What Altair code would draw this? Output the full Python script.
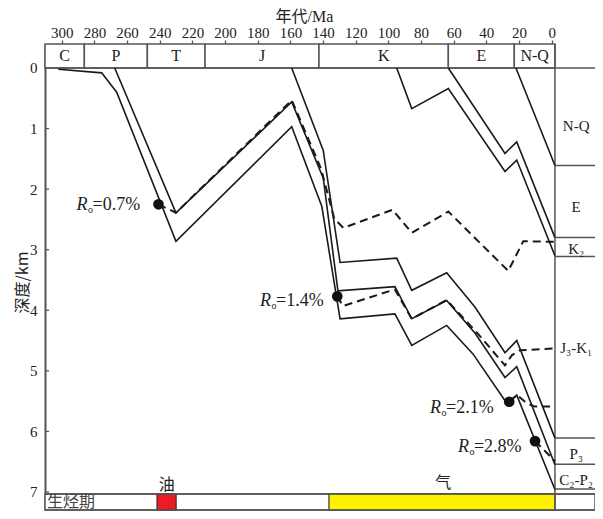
import altair as alt
import pandas as pd

FONT = "Liberation Serif, Noto Sans CJK SC, serif"
CJK = "Noto Sans CJK SC, Liberation Serif, sans-serif"
INK = "#1a1a1a"
FRAME = "#555555"

# ---------------- axes ----------------
age_ticks = [300, 280, 260, 240, 220, 200, 180, 160, 140, 120, 100, 80, 60, 40, 20, 0]
depth_ticks = [0, 1, 2, 3, 4, 5, 6, 7]
AGE_MIN, AGE_MAX = -26.52, 310.29
D_TOP, D_BOT = -0.3962, 7.2972
PRESENT = -2.0
BAR_TOP = 7.033
TICK_END = 307.8

# ---------------- stages (top box) ----------------
stage_names = ["C", "P", "T", "J", "K", "E", "N-Q"]
stage_start = [310.29, 286.2, 247.6, 212.3, 142.5, 63.3, 22.9]
stage_end = [286.2, 247.6, 212.3, 142.5, 63.3, 22.9, -2.0]

# ---------------- burial curves (age Ma, depth km) ----------------
c2p2_age = [302.1, 275.6, 266.4, 230.1, 159.2, 140.8, 129.6, 96.0, 85.7, 64.3, 48.2, 27.4, 21.4, -2.0]
c2p2_dep = [0.02, 0.08, 0.40, 2.86, 0.97, 2.28, 4.14, 4.06, 4.58, 4.25, 4.72, 5.54, 5.40, 6.96]
p3_age = [267.6, 230.1, 159.2, 139.9, 130.9, 96.0, 85.7, 64.3, 46.9, 28.6, 21.4, -2.0]
p3_dep = [0.0, 2.39, 0.56, 1.82, 3.68, 3.61, 4.14, 3.84, 4.38, 5.11, 4.93, 6.55]
j3k1_age = [159.2, 139.9, 129.6, 94.9, 85.7, 64.3, 46.9, 28.6, 21.4, -2.0]
j3k1_dep = [0.0, 1.36, 3.21, 3.14, 3.67, 3.38, 3.95, 4.70, 4.50, 6.11]
k2_age = [94.9, 85.7, 63.3, 28.6, 21.4, -2.0]
k2_dep = [0.0, 0.67, 0.34, 1.71, 1.52, 3.10]
e_age = [63.3, 28.6, 21.4, -2.0]
e_dep = [0.0, 1.41, 1.22, 2.80]
nq_age = [21.9, -2.0]
nq_dep = [0.0, 1.61]

# ---------------- Ro iso-lines (dashed) ----------------
ro07_age = [240.8, 230.1, 159.2, 141.3, 133.1, 127.6, 97.5, 85.7, 63.3, 26.6, 17.4, -2.0]
ro07_dep = [2.25, 2.39, 0.53, 1.66, 2.49, 2.64, 2.34, 2.72, 2.37, 3.35, 2.86, 2.87]
ro14_age = [131.3, 127.8, 99.0, 96.0, 85.7, 64.3, 45.1, 28.6, 24.3, 19.4, -2.0]
ro14_dep = [3.77, 3.93, 3.68, 3.66, 4.14, 3.83, 4.39, 4.91, 4.74, 4.66, 4.63]
ro21_age = [26.0, 21.2, 15.1, 10.2, -2.0]
ro21_dep = [5.51, 5.40, 5.54, 5.59, 5.59]
ro28_age = [10.2, -2.0]
ro28_dep = [6.16, 6.49]

# Ro points and labels
ro_values = ["0.7%", "1.4%", "2.1%", "2.8%"]
dot_age = [240.8, 131.3, 26.0, 10.2]
dot_dep = [2.25, 3.77, 5.51, 6.16]
lab_age = [281.2, 168.8, 64.7, 47.6]
lab_dep = [2.26, 3.85, 5.61, 6.25]

# right-hand stratigraphic column
col_names = ["N-Q", "E", "K₂", "J₃-K₁", "P₃", "C₂-P₂"]
col_base = [1.61, 2.80, 3.11, 6.11, 6.54, 6.95]
col_lab_dep = [0.95, 2.29, 2.98, 4.63, 6.37, 6.80]
COL_LAB_AGE = -15.0

# hydrocarbon generation periods
gen_names = ["油", "气"]
gen_start = [241.7, 136.4]
gen_end = [230.0, -2.0]
gen_colors = ["#ed1c24", "#fff200"]
gen_lab_age = [235.8, 66.4]
gen_lab_dep = [6.88, 6.85]

# ---------------- data frames ----------------
def long_df(d):
    rows = []
    for name, (A, D) in d.items():
        for i, (a, z) in enumerate(zip(A, D)):
            rows.append({"line": name, "i": i, "age": a, "depth": z})
    return pd.DataFrame(rows)

solid = long_df({"c2p2": (c2p2_age, c2p2_dep), "p3": (p3_age, p3_dep),
                 "j3k1": (j3k1_age, j3k1_dep), "k2": (k2_age, k2_dep),
                 "e": (e_age, e_dep), "nq": (nq_age, nq_dep)})
dashed = long_df({"ro07": (ro07_age, ro07_dep), "ro14": (ro14_age, ro14_dep),
                  "ro21": (ro21_age, ro21_dep), "ro28": (ro28_age, ro28_dep)})

stages = pd.DataFrame({"name": stage_names, "a0": stage_start, "a1": stage_end})
stages["mid"] = (stages["a0"] + stages["a1"]) / 2
stages["d0"] = D_TOP
stages["d1"] = 0.0
stages["dm"] = D_TOP / 2

dots = pd.DataFrame({"age": dot_age, "depth": dot_dep})
labs = pd.DataFrame({"age": lab_age, "depth": lab_dep, "v": ro_values})
labs["eq"] = "=" + labs["v"]
labs["R"] = "R"
labs["o"] = "o"

col = pd.DataFrame({"name": col_names, "base": col_base, "ld": col_lab_dep})
col["a0"] = PRESENT
col["a1"] = AGE_MIN
col["la"] = COL_LAB_AGE

gen = pd.DataFrame({"name": gen_names, "a0": gen_start, "a1": gen_end, "c": gen_colors,
                    "la": gen_lab_age, "ld": gen_lab_dep})
gen["d0"] = BAR_TOP
gen["d1"] = D_BOT

hlines = pd.DataFrame({"a0": [AGE_MAX, AGE_MAX, AGE_MAX], "a1": [AGE_MIN, AGE_MIN, AGE_MIN],
                       "d": [0.0, BAR_TOP, D_BOT]})
vline = pd.DataFrame({"a": [PRESENT], "d0": [D_TOP], "d1": [D_BOT]})
yticks = pd.DataFrame({"d": depth_ticks, "a0": AGE_MAX, "a1": TICK_END})
barbox = pd.DataFrame({"a0": [AGE_MAX], "a1": [AGE_MIN], "d0": [BAR_TOP], "d1": [D_BOT]})

xs = alt.Scale(domain=[AGE_MIN, AGE_MAX], reverse=True, nice=False, zero=False)
ys = alt.Scale(domain=[D_TOP, D_BOT], reverse=True, nice=False, zero=False)

x_axis = alt.Axis(orient="top", values=age_ticks, tickSize=4, tickColor=FRAME, tickWidth=1.3,
                  domain=False, grid=False, labelFont=FONT, labelFontSize=15, labelColor="#222",
                  labelPadding=0, labelFlush=False, format="d",
                  title="年代/Ma", titleFont=FONT, titleFontSize=16, titleFontWeight="normal",
                  titleColor="#222", titleX=259, titleY=-28, titleBaseline="middle")
y_axis = alt.Axis(orient="left", values=depth_ticks, ticks=False, domainColor=FRAME, domainWidth=2,
                  grid=False, labelFont=FONT, labelFontSize=15, labelColor="#222", labelPadding=8,
                  format="d", title="深度/km", titleFont=CJK, titleFontSize=16,
                  titleFontWeight="normal", titleColor="#222",
                  titleX=-23, titleY=238, titleBaseline="middle", titleAngle=270)


def X(f):
    return alt.X(f, type="quantitative", scale=xs, axis=x_axis)


def Y(f):
    return alt.Y(f, type="quantitative", scale=ys, axis=y_axis)


bar_outline = alt.Chart(barbox).mark_rect(fill="white", stroke=FRAME, strokeWidth=1.5).encode(
    x=X("a0"), x2="a1", y=Y("d0"), y2="d1")
gen_rects = alt.Chart(gen).mark_rect(stroke="#333", strokeWidth=1.2).encode(
    x=X("a0"), x2="a1", y=Y("d0"), y2="d1", fill=alt.Fill("c:N", scale=None))
stage_rects = alt.Chart(stages).mark_rect(fill="white", stroke=FRAME, strokeWidth=1.5).encode(
    x=X("a0"), x2="a1", y=Y("d0"), y2="d1")
stage_text = alt.Chart(stages).mark_text(font=FONT, fontSize=16, color="#222", baseline="middle").encode(
    x=X("mid"), y=Y("dm"), text="name:N")
h_rules = alt.Chart(hlines).mark_rule(color=FRAME, strokeWidth=1.5).encode(
    x=X("a0"), x2="a1", y=Y("d"))
col_rules = alt.Chart(col).mark_rule(color=FRAME, strokeWidth=1.5).encode(
    x=X("a0"), x2="a1", y=Y("base"))
v_rule = alt.Chart(vline).mark_rule(color=FRAME, strokeWidth=1.5).encode(
    x=X("a"), y=Y("d0"), y2="d1")
tick_rules = alt.Chart(yticks).mark_rule(color=FRAME, strokeWidth=1.3).encode(
    x=X("a0"), x2="a1", y=Y("d"))
col_text = alt.Chart(col).mark_text(font=FONT, fontSize=15, color="#222", baseline="middle").encode(
    x=X("la"), y=Y("ld"), text="name:N")

solid_lines = alt.Chart(solid).mark_line(color=INK, strokeWidth=1.6).encode(
    x=X("age"), y=Y("depth"), detail="line:N", order="i:Q")
dash_lines = alt.Chart(dashed).mark_line(color=INK, strokeWidth=2, strokeDash=[8, 5]).encode(
    x=X("age"), y=Y("depth"), detail="line:N", order="i:Q")
dot_mark = alt.Chart(dots).mark_circle(size=115, color="#111", opacity=1).encode(
    x=X("age"), y=Y("depth"))

r_text = alt.Chart(labs).mark_text(font=FONT, fontSize=18, fontStyle="italic", color="#222",
                                   align="right", baseline="middle", dx=-5).encode(
    x=X("age"), y=Y("depth"), text="R:N")
o_text = alt.Chart(labs).mark_text(font=FONT, fontSize=10, color="#222",
                                   align="center", baseline="middle", dx=-2, dy=5).encode(
    x=X("age"), y=Y("depth"), text="o:N")
eq_text = alt.Chart(labs).mark_text(font=FONT, fontSize=18, color="#222",
                                    align="left", baseline="middle").encode(
    x=X("age"), y=Y("depth"), text="eq:N")

gen_text = alt.Chart(gen).mark_text(font=CJK, fontSize=16, color="#222", baseline="middle").encode(
    x=X("la"), y=Y("ld"), text="name:N")
gen_title = alt.Chart(pd.DataFrame({"t": ["生烃期"], "a": [309.1], "d": [7.165]})).mark_text(
    font=CJK, fontSize=16, color="#444", align="left", baseline="middle").encode(
    x=X("a"), y=Y("d"), text="t:N")

chart = alt.layer(
    bar_outline, gen_rects, stage_rects, stage_text, h_rules, col_rules, v_rule, tick_rules,
    col_text, solid_lines, dash_lines, dot_mark, r_text, o_text, eq_text, gen_text, gen_title
).properties(
    width=550, height=466,
    autosize=alt.AutoSizeParams(type="none"),
    padding={"left": 37, "top": 36, "right": 0, "bottom": 1},
).configure_view(strokeWidth=0)

chart.save("out.html", embed_options={"renderer": "svg", "actions": False})
